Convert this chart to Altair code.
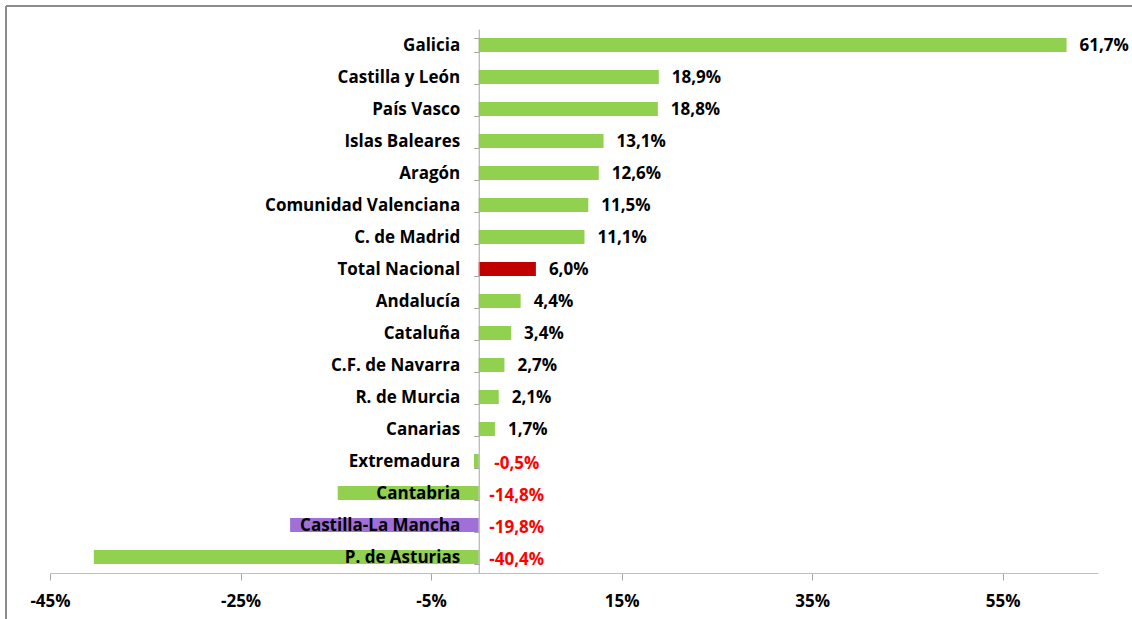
import altair as alt
import pandas as pd

regions = ["Galicia", "Castilla y León", "País Vasco", "Islas Baleares", "Aragón",
           "Comunidad Valenciana", "C. de Madrid", "Total Nacional", "Andalucía",
           "Cataluña", "C.F. de Navarra", "R. de Murcia", "Canarias", "Extremadura",
           "Cantabria", "Castilla-La Mancha", "P. de Asturias"]
values = [61.7, 18.9, 18.8, 13.1, 12.6, 11.5, 11.1, 6.0, 4.4, 3.4, 2.7, 2.1, 1.7,
          -0.5, -14.8, -19.8, -40.4]
bar_colors = ["#92D050"] * 7 + ["#C00000"] + ["#92D050"] * 7 + ["#A070D8"] + ["#92D050"]
tick_values = [-45, -25, -5, 15, 35, 55]

df = pd.DataFrame({"region": regions, "value": values, "color": bar_colors})
df["label"] = df["value"].map(lambda v: f"{v:.1f}".replace(".", ",") + "%")
df["lx"] = df["value"].clip(lower=0)

W, H = 1048, 544
XMIN, XMAX = -45, 65
FONT = "Open Sans"
FS = 17
zero_offset = -W * (0 - XMIN) / (XMAX - XMIN)

x_scale = alt.Scale(domain=[XMIN, XMAX], nice=False, zero=False)
y_scale = alt.Scale(domain=regions, paddingInner=0.56, paddingOuter=0.28)

base = alt.Chart(df)

bars = base.mark_bar().encode(
    x=alt.X("value:Q", scale=x_scale,
            axis=alt.Axis(values=tick_values, title=None, format=".0f",
                          labelExpr="datum.value + '%'", grid=False,
                          labelFlush=False, labelOverlap=False,
                          domainColor="#BFBFBF", tickColor="#A6A6A6", tickSize=7,
                          labelFont=FONT, labelFontSize=FS, labelFontWeight="bold",
                          labelColor="#000000", labelPadding=13)),
    x2=alt.datum(0),
    y=alt.Y("region:N", scale=y_scale, sort=regions,
            axis=alt.Axis(title=None, offset=zero_offset, domainColor="#A6A6A6",
                          tickColor="#A6A6A6", tickSize=5, bandPosition=0,
                          tickBand="extent", labelFont=FONT, labelFontSize=FS,
                          labelFontWeight="bold", labelColor="#000000",
                          labelLimit=400, labelOverlap=False,
                          labelPadding=14, zindex=1)),
    color=alt.Color("color:N", scale=None),
)

pos_labels = base.transform_filter("datum.value >= 0").mark_text(
    align="left", baseline="middle", dx=13, dy=1, font=FONT, fontSize=FS,
    fontWeight="bold", color="#000000"
).encode(x=alt.X("lx:Q", scale=x_scale), y=alt.Y("region:N", scale=y_scale, sort=regions),
         text="label:N")

neg_labels = base.transform_filter("datum.value < 0").mark_text(
    align="center", baseline="middle", dx=38, dy=3, font=FONT, fontSize=FS,
    fontWeight="bold", color="#FF0000"
).encode(x=alt.X("lx:Q", scale=x_scale), y=alt.Y("region:N", scale=y_scale, sort=regions),
         text="label:N")

frame_top = alt.Chart(df).mark_rule(color="#8C8C8C", strokeWidth=1).encode(
    x=alt.value(-44), x2=alt.value(W + 40), y=alt.value(-23))
frame_left = alt.Chart(df).mark_rule(color="#8C8C8C", strokeWidth=1).encode(
    x=alt.value(-44), y=alt.value(-23), y2=alt.value(H + 50))

chart = alt.layer(bars, pos_labels, neg_labels, frame_top, frame_left).properties(
    width=W, height=H,
    background="#FFFFFF",
    autosize=alt.AutoSizeParams(type="none"),
    padding={"left": 50, "top": 29, "right": 34, "bottom": 46},
).configure_view(stroke="transparent", strokeWidth=0)

chart.save("out.html", embed_options={"renderer": "svg", "actions": False})
